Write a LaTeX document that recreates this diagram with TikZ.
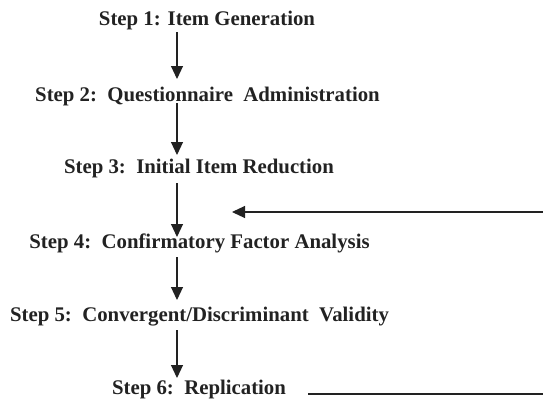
\documentclass[tikz,border=0pt]{standalone}
\usepackage{fontspec}
\setmainfont{Liberation Serif}
\usetikzlibrary{arrows.meta}
\definecolor{ink}{HTML}{222222}
\begin{document}
\begin{tikzpicture}[x=1pt,y=-1pt,
  stepnode/.style={font=\fontsize{20.8}{24}\selectfont\bfseries, text=ink, inner sep=2pt, anchor=center},
  arr/.style={draw=ink, line width=1.1pt, -{Triangle[width=12pt,length=13pt]}},
  fb/.style={draw=ink, line width=1.1pt}]
\useasboundingbox (0,0) rectangle (543,399);
\node[stepnode] (s1) at (207,20) {Step 1: Item Generation};
\node[stepnode] (s2) at (207.5,96) {Step 2:\ \ Questionnaire\ \ Administration};
\node[stepnode] (s3) at (199,168) {Step 3:\ \ Initial Item Reduction};
\node[stepnode] (s4) at (199.5,243) {Step 4:\ \ Confirmatory Factor Analysis};
\node[stepnode] (s5) at (199.5,317) {Step 5:\ \ Convergent/Discriminant\ \ Validity};
\node[stepnode] (s6) at (199,389) {Step 6:\ \ Replication};
\coordinate (c1a) at (177,32); \coordinate (c1b) at (177,79);
\coordinate (c2a) at (177,103); \coordinate (c2b) at (177,155);
\coordinate (c3a) at (177,183); \coordinate (c3b) at (177,237);
\coordinate (c4a) at (177,257); \coordinate (c4b) at (177,300);
\coordinate (c5a) at (177,330); \coordinate (c5b) at (177,378);
\draw[arr] (c1a) -- (c1b);
\draw[arr] (c2a) -- (c2b);
\draw[arr] (c3a) -- (c3b);
\draw[arr] (c4a) -- (c4b);
\draw[arr] (c5a) -- (c5b);
\coordinate (fbin) at (543,212);
\coordinate (fbtip) at (232,212);
\draw[arr] (fbin) -- (fbtip);
\coordinate (r6) at (308,394);
\coordinate (fbout) at (543,394);
\draw[fb] (r6) -- (fbout);
\end{tikzpicture}
\end{document}
